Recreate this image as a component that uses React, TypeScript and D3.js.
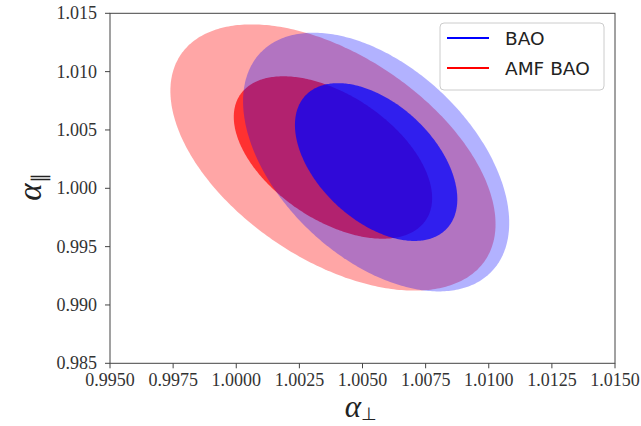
import React from "react";
import * as d3 from "d3";

// Gaussian posterior summaries for the two analyses
const seriesNames = ["AMF BAO", "BAO"];
const seriesColors = ["#ff0000", "#0000ff"];
const centerPerp = [1.00383, 1.00554];
const centerPar = [1.00264, 1.00225];
const sigmaPerp = [0.00259, 0.00212];
const sigmaPar = [0.00459, 0.00446];
const correlation = [-0.5, -0.47];
// Δχ² for the 95% and 68% regions (outer first)
const chi2Levels = [6.18, 2.3];
const fillAlpha = [
  [0.35, 0.7],
  [0.3, 0.73],
];

const xTicks = [0.995, 0.9975, 1.0, 1.0025, 1.005, 1.0075, 1.01, 1.0125, 1.015];
const yTicks = [0.985, 0.99, 0.995, 1.0, 1.005, 1.01, 1.015];
const legendOrder = ["BAO", "AMF BAO"];

const W = 641;
const H = 426;
const plot = { left: 110, right: 615, top: 13.3, bottom: 363.3 };

export default function App() {
  const x = d3.scaleLinear().domain([0.995, 1.015]).range([plot.left, plot.right]);
  const y = d3.scaleLinear().domain([0.985, 1.015]).range([plot.bottom, plot.top]);

  const ellipse = (i: number, dchi2: number) => {
    const k = Math.sqrt(dchi2);
    const r = correlation[i];
    const pts: [number, number][] = d3.range(0, 361).map((deg) => {
      const t = (deg * Math.PI) / 180;
      const px = centerPerp[i] + k * sigmaPerp[i] * Math.cos(t);
      const py =
        centerPar[i] + k * sigmaPar[i] * (r * Math.cos(t) + Math.sqrt(1 - r * r) * Math.sin(t));
      return [x(px), y(py)];
    });
    return d3.line().curve(d3.curveLinearClosed)(pts) as string;
  };

  const tickFont = { fontFamily: "'Liberation Serif', 'Times New Roman', serif", fontSize: 18, fill: "#333" };

  return (
    <svg width={W} height={H} style={{ position: "absolute", left: 0, top: 0, background: "#fff" }}>
      <defs>
        <clipPath id="plotArea">
          <rect x={plot.left} y={plot.top} width={plot.right - plot.left} height={plot.bottom - plot.top} />
        </clipPath>
      </defs>
      <g clipPath="url(#plotArea)">
        {seriesNames.map((name, i) =>
          chi2Levels.map((lv, j) => (
            <path key={name + j} d={ellipse(i, lv)} fill={seriesColors[i]} fillOpacity={fillAlpha[i][j]} />
          ))
        )}
      </g>
      <rect
        x={plot.left}
        y={plot.top}
        width={plot.right - plot.left}
        height={plot.bottom - plot.top}
        fill="none"
        stroke="#444"
        strokeWidth={1}
      />
      {xTicks.map((t) => (
        <g key={"x" + t}>
          <line x1={x(t)} x2={x(t)} y1={plot.bottom} y2={plot.bottom + 5} stroke="#444" />
          <text x={x(t)} y={plot.bottom + 23} textAnchor="middle" {...tickFont}>
            {t.toFixed(4)}
          </text>
        </g>
      ))}
      {yTicks.map((t) => (
        <g key={"y" + t}>
          <line x1={plot.left - 5} x2={plot.left} y1={y(t)} y2={y(t)} stroke="#444" />
          <text x={plot.left - 13} y={y(t)} dy="0.33em" textAnchor="end" {...tickFont}>
            {t.toFixed(3)}
          </text>
        </g>
      ))}
      <text
        x={361}
        y={417}
        textAnchor="middle"
        fontFamily="'Liberation Serif', serif"
        fontStyle="italic"
        fontSize={31}
        fill="#222"
      >
        α<tspan fontStyle="normal" fontSize={18} dy={3}>⊥</tspan>
      </text>
      <text
        transform="translate(41,187) rotate(-90)"
        textAnchor="middle"
        fontFamily="'Liberation Serif', serif"
        fontStyle="italic"
        fontSize={33}
        fill="#222"
      >
        α<tspan fontStyle="normal" fontSize={20} dy={5}>∥</tspan>
      </text>
      <g>
        <rect x={440} y={23} width={164} height={67} rx={4} fill="#fff" fillOpacity={0.8} stroke="#ccc" />
        {legendOrder.map((name, i) => {
          const idx = seriesNames.indexOf(name);
          const ly = 38 + i * 30;
          return (
            <g key={name}>
              <line x1={447} x2={489} y1={ly} y2={ly} stroke={seriesColors[idx]} strokeWidth={2} />
              <text
                x={505}
                y={ly}
                dy="0.36em"
                fontFamily="'DejaVu Sans', sans-serif"
                fontSize={18.5}
                fill="#222"
              >
                {name}
              </text>
            </g>
          );
        })}
      </g>
    </svg>
  );
}
